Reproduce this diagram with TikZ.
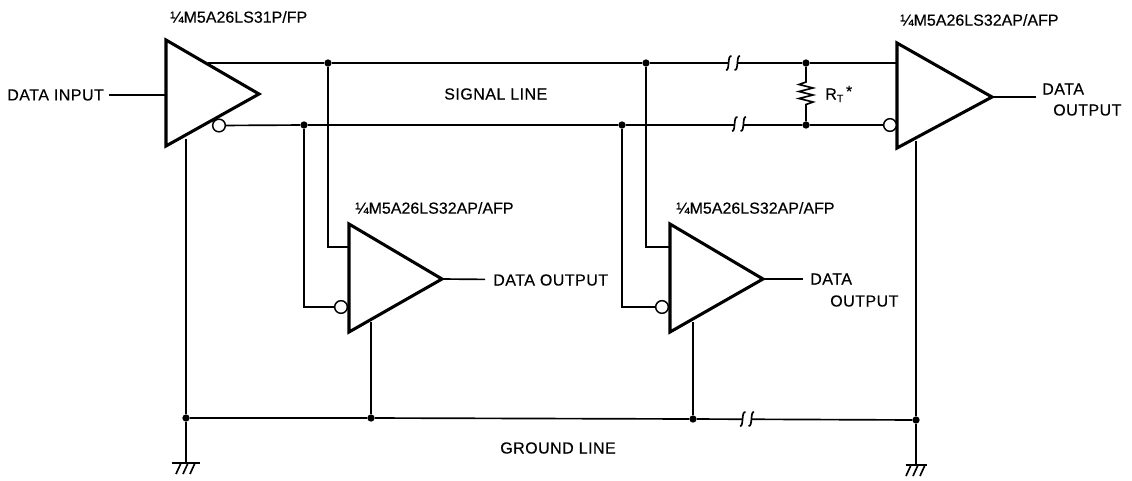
\documentclass[tikz,border=0pt]{standalone}
\usepackage{fontspec}
\setmainfont[FakeBold=0.35,LetterSpace=3]{Liberation Sans}
\newfontfamily\partfont[FakeBold=0.35]{Liberation Sans}
\tikzset{
  wire/.style={black,line width=1.25pt},
  amp/.style={black,line width=2.3pt,line join=miter,fill=white},
  dot/.style={circle,fill=black,inner sep=0pt,minimum size=5.5pt},
  bubble/.style={circle,draw=black,line width=1.1pt,fill=white,inner sep=0pt,minimum size=9.5pt},
  lbl/.style={inner sep=0pt,anchor=west,font=\fontsize{12}{14}\selectfont},
  part/.style={lbl,font=\fontsize{12}{14}\selectfont\partfont},
  pics/gap/.style={code={
    \fill[white] (-4,-5) rectangle (4,5);
    \draw[wire] (-7,7) .. controls (-3,8) and (-6,-8) .. (-1.5,-7);
    \draw[wire] (1.5,7) .. controls (6,8) and (3,-8) .. (7,-7);
  }},
  pics/earth/.style={code={
    \draw[wire,line width=1.5pt] (-#1,0) -- (#1,0);
    \foreach \hx in {-5,2,9}{
      \draw[wire] (\hx,0) -- ++(-5,11);
    }
  }}
}
\begin{document}
\begin{tikzpicture}[x=0.75pt,y=-0.75pt]
\useasboundingbox (0,0) rectangle (1132,480);
% Driver
\coordinate (DA) at (166,40);
\coordinate (DB) at (259,94);
\coordinate (DC) at (166,146);
\coordinate (DG) at (186,139);
% First receiver
\coordinate (PA) at (349,224);
\coordinate (PB) at (442,279);
\coordinate (PC) at (349,332);
\coordinate (PG) at (371,322);
% Second receiver
\coordinate (QA) at (670,224);
\coordinate (QB) at (763,279);
\coordinate (QC) at (670,332);
\coordinate (QG) at (693,322);
% Far end receiver
\coordinate (RA) at (897,43);
\coordinate (RB) at (992,97);
\coordinate (RC) at (897,148);
\coordinate (RG) at (916,141);
\coordinate (RE) at (1036,97);

\draw[amp] (DA) -- (DB) -- (DC) -- cycle;
\draw[amp] (PA) -- (PB) -- (PC) -- cycle;
\draw[amp] (QA) -- (QB) -- (QC) -- cycle;
\draw[amp] (RA) -- (RB) -- (RC) -- cycle;

\node[bubble] (DBU) at (219,125.5) {};
\node[bubble] (PBU) at (341,307) {};
\node[bubble] (QBU) at (662,307) {};
\node[bubble] (RBU) at (890,125) {};

\node[dot] (TA) at (328,63) {};
\node[dot] (TB) at (646,63) {};
\node[dot] (TC) at (806,63) {};
\node[dot] (BA) at (304,125) {};
\node[dot] (BB) at (622,125) {};
\node[dot] (BC) at (806,125) {};
\node[dot] (GA) at (186,418) {};
\node[dot] (GB) at (371,418) {};
\node[dot] (GC) at (693,419) {};
\node[dot] (GD) at (916,420) {};

\coordinate (TD) at (208,63);
\coordinate (TE) at (897,63);
\coordinate (PI) at (349,247);
\coordinate (QI) at (670,247);
\coordinate (EA) at (186,463);
\coordinate (ED) at (916,465);

\node[lbl] (IN) at (7,95) {DATA INPUT};
\node[lbl] (SIG) at (444,94) {SIGNAL LINE};
\node[lbl] (GND) at (500,448) {GROUND LINE};
\node[part] (DN) at (170,17) {¼M5A26LS31P/FP};
\node[part] (PN) at (355,208) {¼M5A26LS32AP/AFP};
\node[part] (QN) at (676,208) {¼M5A26LS32AP/AFP};
\node[part] (RN) at (900,20) {¼M5A26LS32AP/AFP};
\node[lbl] (PO) at (493,280) {DATA OUTPUT};
\node[lbl] (QO) at (810,279) {DATA};
\node[lbl] (QP) at (830,301) {OUTPUT};
\node[lbl] (RO) at (1042,89) {DATA};
\node[lbl] (RP) at (1053,110) {OUTPUT};
\node[lbl] (RT) at (825,94) {R\raisebox{-2pt}{\fontsize{8}{9}\selectfont T}\,\raisebox{2pt}{*}};

% Signal line pair
\draw[wire] (TD) -- (TA) -- (TB) -- (TC) -- (TE);
\draw[wire] (DBU) -- (BA) -- (BB) -- (BC) -- (RBU);
\pic at (733,63) {gap};
\pic at (739,124) {gap};
% Stubs to the receivers
\draw[wire] (TA) |- (PI);
\draw[wire] (BA) |- (PBU);
\draw[wire] (TB) |- (QI);
\draw[wire] (BB) |- (QBU);
% Termination
\draw[wire] (TC) -- ++(0,19) -- ++(-7,2.5) -- ++(14,3.5) -- ++(-14,3.5) -- ++(14,3.5) -- ++(-14,3.5) -- ++(14,3.5) -- ++(-7,2.5) -- (BC);
% Ground line
\draw[wire] (GA) -- (GB) -- (GC) -- (GD);
\pic at (747,419) {gap};
\draw[wire] (DG) -- (GA);
\draw[wire] (PG) -- (GB);
\draw[wire] (QG) -- (GC);
\draw[wire] (RG) -- (GD);
\draw[wire] (GA) -- (EA);
\draw[wire] (GD) -- (ED);
\pic at (EA) {earth=14};
\pic at (ED) {earth=10.5};
% Outputs and input
\draw[wire,shorten <=4pt] (IN) -- (DA |- IN);
\draw[wire,shorten >=6pt] (PB) -- (PO);
\draw[wire,shorten >=5pt] (QB) -- (QO);
\draw[wire] (RB) -- (RE);
\end{tikzpicture}
\end{document}
